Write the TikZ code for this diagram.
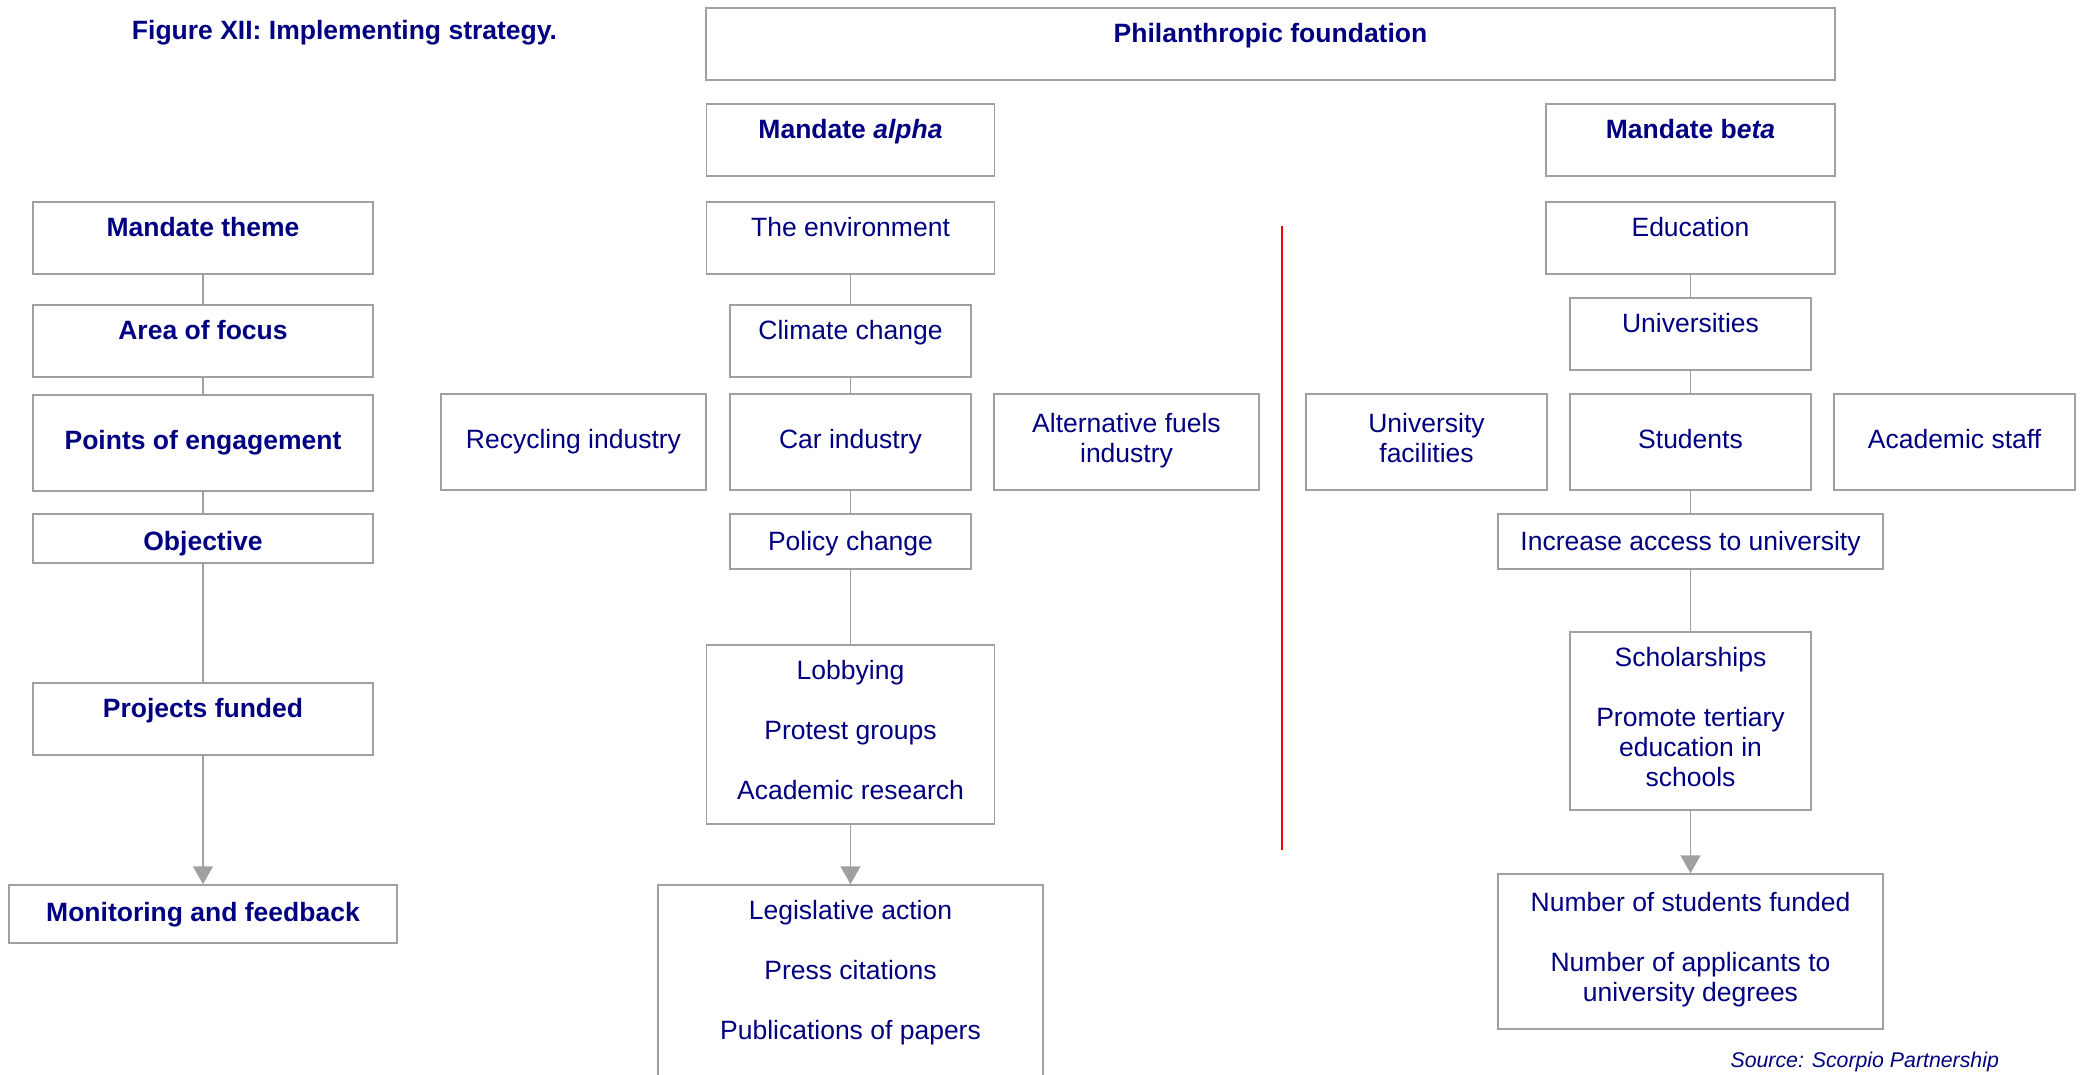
\documentclass[tikz,border=0pt]{standalone}
\usepackage{fontspec}
\setmainfont{Liberation Sans}
\usetikzlibrary{arrows.meta}
\definecolor{navy}{RGB}{0,0,128}
\definecolor{linegray}{RGB}{160,160,160}
\definecolor{divred}{RGB}{255,0,0}

\begin{document}
\begin{tikzpicture}[x=1pt,y=-1pt,>={Triangle[width=20pt,length=18pt]},
        box/.style={draw=linegray,line width=1.5pt,text=navy,align=center,inner sep=0pt,
            font=\fontsize{26.5}{30}\selectfont,
            execute at begin node=\strut,execute at end node=\strut},
        bbox/.style={box,font=\fontsize{26.5}{30}\selectfont\bfseries},
        boxsize/.style 2 args={minimum width=#1pt,minimum height=#2pt},
        head/.style={text height=19pt,text depth=22pt},
        low/.style={text height=19pt,text depth=1pt},
        every edge/.style={draw=linegray,line width=1.5pt},
        divider/.style={draw=divred,line width=2.4pt}]
    \useasboundingbox (0,0) rectangle (2085,1074);
    \clip (0,0) rectangle (2085,1074);

    \node[text=navy,font=\fontsize{26.5}{30}\selectfont\bfseries,anchor=base] (title) at (344.5,39) {Figure XII: Implementing strategy.};

    % legend column
    \node[bbox,head,boxsize={340}{72}] (theme) at (203,238) {Mandate theme};
    \node[bbox,head,boxsize={340}{72}] (focus) at (203,341) {Area of focus};
    \node[bbox,boxsize={340}{96}] (engage) at (203,443) {Points of engagement};
    \node[bbox,text height=24pt,text depth=0pt,boxsize={340}{49}] (objective) at (203,538.5) {Objective};
    \node[bbox,head,boxsize={340}{72}] (projects) at (203,719) {Projects funded};
    \node[bbox,text height=19pt,text depth=4pt,boxsize={388}{58}] (monitor) at (203,914) {Monitoring and feedback};

    \node[bbox,head,boxsize={1129}{72}] (found) at (1270.5,44) {Philanthropic foundation};

    % mandate alpha
    \node[bbox,head,boxsize={288}{72}] (alpha) at (850.5,140) {Mandate \textit{alpha}};
    \node[box,head,boxsize={288}{72}] (env) at (850.5,238) {The environment};
    \node[box,head,boxsize={241}{72}] (climate) at (850.5,341) {Climate change};
    \node[box,boxsize={241}{96}] (car) at (850.5,442) {Car industry};
    \node[box,boxsize={265}{96},node distance=277pt] (recycle) [left of=car] {Recycling industry};
    \node[box,boxsize={265}{96},node distance=276pt] (fuels) [right of=car] {Alternative fuels\\industry};
    \node[box,low,boxsize={241}{55}] (policy) at (850.5,541.5) {Policy change};
    \node[box,boxsize={288}{179}] (lobby) at (850.5,734.5) {Lobbying\\[30pt]Protest groups\\[30pt]Academic research};
    \node[box,boxsize={385}{260}] (legis) at (850.5,1015) {};
    \node[box,draw=none,anchor=north] (legistext) at ([yshift=-15.7pt]legis.north) {Legislative action\\[30pt]Press citations\\[30pt]Publications of papers};

    % mandate beta
    \node[bbox,head,boxsize={289}{72}] (beta) at (1690.5,140) {Mandate b\textit{eta}};
    \node[box,head,boxsize={289}{72}] (edu) at (1690.5,238) {Education};
    \node[box,head,boxsize={241}{72}] (univ) at (1690.5,334) {Universities};
    \node[box,boxsize={241}{96}] (students) at (1690.5,442) {Students};
    \node[box,boxsize={241}{96},node distance=264pt] (facil) [left of=students] {University\\facilities};
    \node[box,boxsize={241}{96},node distance=264pt] (staff) [right of=students] {Academic staff};
    \node[box,low,boxsize={385}{55}] (access) at (1690.5,541.5) {Increase access to university};
    \node[box,boxsize={241}{178}] (schol) at (1690.5,721) {Scholarships\\[30pt]Promote tertiary\\education in\\schools};
    \node[box,boxsize={385}{155}] (numbers) at (1690.5,951.5) {Number of students funded\\[30pt]Number of applicants to\\university degrees};

    \path
    (theme) edge (focus)
    (focus) edge (engage)
    (engage) edge (objective)
    (objective) edge (projects)
    (projects) edge[->] (monitor)
    (env) edge (climate)
    (climate) edge (car)
    (car) edge (policy)
    (policy) edge (lobby)
    (lobby) edge[->] (legis)
    (edu) edge (univ)
    (univ) edge (students)
    (students) edge (access)
    (access) edge (schol)
    (schol) edge[->] (numbers)
    ;

    \coordinate (divtop) at (1282,226);
    \coordinate (divbot) at (1282,850);
    \draw[divider] (divtop) -- (divbot);

    \node[text=navy,font=\fontsize{21.3}{25}\selectfont\itshape,anchor=base west] (source) at (1727,1067) {Source: Scorpio Partnership};
\end{tikzpicture}
\end{document}
